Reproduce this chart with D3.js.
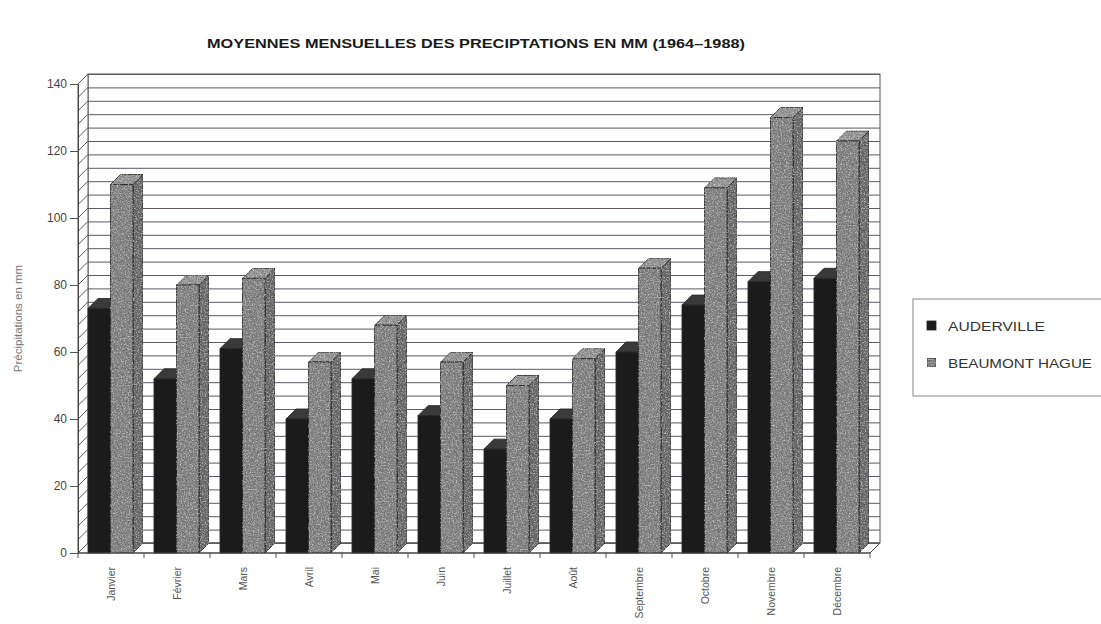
<!DOCTYPE html>
<html>
<head>
<meta charset="utf-8">
<script src="https://cdn.jsdelivr.net/npm/d3@7/dist/d3.min.js"></script>
<style>
  html, body { margin: 0; padding: 0; background: #fff; }
  svg { display: block; font-family: "Liberation Sans", Arial, sans-serif; }
</style>
</head>
<body>
<svg id="chart" width="1101" height="624"></svg>
<script>
// Monthly mean precipitation (mm), 1964–1988
const months = ["Janvier", "Février", "Mars", "Avril", "Mai", "Juin", "Juillet", "Août", "Septembre", "Octobre", "Novembre", "Décembre"];
const seriesNames = ["AUDERVILLE", "BEAUMONT HAGUE"];
const auderville = [73, 52, 61, 40, 52, 41, 31, 40, 60, 74, 81, 82];
const beaumontHague = [110, 80, 82, 57, 68, 57, 50, 58, 85, 109, 130, 123];
const yTicks = [0, 20, 40, 60, 80, 100, 120, 140];
const gridStep = 4;

const svg = d3.select("#chart");

// oblique depth of the 3-D box
const DX = 10, DY = 10;

const x = d3.scaleBand().domain(months).range([78, 870]);
const xs = d3.scaleBand().domain(seriesNames).range([10, 55]);
const y = d3.scaleLinear().domain([0, 140]).range([553, 84]);

// soft stipple texture for the grey bars
const defs = svg.append("defs");
const f = defs.append("filter").attr("id", "grain")
  .attr("x", "0%").attr("y", "0%").attr("width", "100%").attr("height", "100%");
f.append("feTurbulence").attr("type", "fractalNoise").attr("baseFrequency", 0.75)
  .attr("numOctaves", 2).attr("seed", 5).attr("result", "t");
f.append("feColorMatrix").attr("in", "t").attr("type", "matrix")
  .attr("values", "0 0 0 0 0  0 0 0 0 0  0 0 0 0 0  1.3 0 0 0 -0.6").attr("result", "dk");
f.append("feColorMatrix").attr("in", "t").attr("type", "matrix")
  .attr("values", "0 0 0 0 1  0 0 0 0 1  0 0 0 0 1  -1.3 0 0 0 0.62").attr("result", "lt");
const fm = f.append("feMerge").attr("result", "m");
fm.append("feMergeNode").attr("in", "SourceGraphic");
fm.append("feMergeNode").attr("in", "dk");
fm.append("feMergeNode").attr("in", "lt");
f.append("feComposite").attr("in", "m").attr("in2", "SourceGraphic").attr("operator", "in");

const x0 = x.range()[0], x1 = x.range()[1];
const yb = y(0), yt = y(140);

// back wall
svg.append("rect")
  .attr("x", x0 + DX).attr("y", yt - DY)
  .attr("width", x1 - x0).attr("height", yb - yt)
  .attr("fill", "#fff").attr("stroke", "#555").attr("stroke-width", 1);

// left side wall
svg.append("path")
  .attr("d", `M${x0},${yb}L${x0},${yt}L${x0 + DX},${yt - DY}L${x0 + DX},${yb - DY}Z`)
  .attr("fill", "#fff").attr("stroke", "#555").attr("stroke-width", 1);

// floor
svg.append("path")
  .attr("d", `M${x0},${yb}L${x1},${yb}L${x1 + DX},${yb - DY}L${x0 + DX},${yb - DY}Z`)
  .attr("fill", "#fff").attr("stroke", "#444").attr("stroke-width", 1);

// gridlines on back and side walls
const gridVals = d3.range(0, 140 + 0.001, gridStep);
const grid = svg.append("g").attr("stroke", "#5d5862").attr("stroke-width", 1).attr("fill", "none");
grid.selectAll("line.back").data(gridVals).join("line").attr("class", "back")
  .attr("x1", x0 + DX).attr("x2", x1 + DX)
  .attr("y1", d => y(d) - DY + 0.5).attr("y2", d => y(d) - DY + 0.5);
grid.selectAll("line.side").data(gridVals).join("line").attr("class", "side")
  .attr("x1", x0).attr("x2", x0 + DX)
  .attr("y1", d => y(d)).attr("y2", d => y(d) - DY);

// 3-D columns
const faceFill = {
  "AUDERVILLE": { front: "#1b1b1b", top: "#3a3a3a", side: "#111" },
  "BEAUMONT HAGUE": { front: "#868686", top: "#989898", side: "#6e6e6e" }
};
const rows = months.map((m, i) => ({ month: m, vals: [auderville[i], beaumontHague[i]] }));

const bars = svg.append("g");
rows.forEach(r => {
  r.vals.forEach((v, k) => {
    const name = seriesNames[k];
    const bx = x(r.month) + xs(name);
    const bw = xs.bandwidth();
    const top = y(v), bot = y(0);
    const c = faceFill[name];
    const g = bars.append("g").attr("stroke", "#2a2a2a").attr("stroke-width", 0.9)
      .attr("stroke-linejoin", "round");
    if (k === 1) g.attr("filter", "url(#grain)");
    // side face
    g.append("path")
      .attr("d", `M${bx + bw},${bot}L${bx + bw},${top}L${bx + bw + DX},${top - DY}L${bx + bw + DX},${bot - DY}Z`)
      .attr("fill", c.side);
    // top face
    g.append("path")
      .attr("d", `M${bx},${top}L${bx + bw},${top}L${bx + bw + DX},${top - DY}L${bx + DX},${top - DY}Z`)
      .attr("fill", c.top);
    // front face
    g.append("rect")
      .attr("x", bx).attr("y", top).attr("width", bw).attr("height", bot - top)
      .attr("fill", c.front);
  });
});

// front floor edge and category ticks
svg.append("line").attr("x1", x0).attr("x2", x1).attr("y1", yb).attr("y2", yb)
  .attr("stroke", "#444").attr("stroke-width", 1);
const catEdges = months.map(m => x(m)).concat([x1]);
svg.append("g").selectAll("line").data(catEdges).join("line")
  .attr("x1", d => d).attr("x2", d => d).attr("y1", yb).attr("y2", yb + 5)
  .attr("stroke", "#555").attr("stroke-width", 1);

// y axis
const yAxis = d3.axisLeft(y).tickValues(yTicks).tickSize(8).tickPadding(3);
const ya = svg.append("g").attr("transform", `translate(${x0},0)`).call(yAxis);
ya.select(".domain").attr("stroke", "#444");
ya.selectAll(".tick line").attr("stroke", "#555");
ya.selectAll(".tick text").attr("fill", "#444").style("font-size", "12px")
  .style("font-family", "'Liberation Sans', Arial, sans-serif");

// month labels (vertical)
svg.append("g").selectAll("text").data(months).join("text")
  .attr("transform", d => `translate(${x(d) + x.bandwidth() / 2},${yb + 14}) rotate(-90)`)
  .attr("text-anchor", "end").attr("dy", "0.35em")
  .attr("fill", "#555").style("font-size", "10.5px")
  .text(d => d);

// y axis title
svg.append("text")
  .attr("transform", `translate(18,${(yb + yt) / 2}) rotate(-90)`)
  .attr("text-anchor", "middle").attr("dy", "0.35em")
  .attr("fill", "#777").style("font-size", "11.5px")
  .text("Précipitations en mm");

// title
svg.append("text")
  .attr("x", 207).attr("y", 48)
  .attr("textLength", 538).attr("lengthAdjust", "spacingAndGlyphs")
  .attr("fill", "#1a1a1a").style("font-size", "12px").style("font-weight", "bold")
  .text("MOYENNES MENSUELLES DES PRECIPTATIONS EN MM (1964–1988)");

// legend
const lg = svg.append("g");
lg.append("rect").attr("x", 913).attr("y", 299).attr("width", 220).attr("height", 97)
  .attr("fill", "#fff").attr("stroke", "#888").attr("stroke-width", 1);
const legendItems = lg.selectAll("g.item").data(seriesNames).join("g").attr("class", "item")
  .attr("transform", (d, i) => `translate(927,${321 + i * 37})`);
legendItems.append("rect").attr("width", 9).attr("height", 9)
  .attr("fill", d => faceFill[d].front).attr("stroke", "#222").attr("stroke-width", 0.8)
  .attr("filter", (d, i) => i === 1 ? "url(#grain)" : null);
legendItems.append("text").attr("x", 21).attr("y", 9.5)
  .attr("textLength", (d, i) => i === 0 ? 97 : 144).attr("lengthAdjust", "spacingAndGlyphs")
  .attr("fill", "#333").style("font-size", "13.5px")
  .text(d => d);
</script>
</body>
</html>
